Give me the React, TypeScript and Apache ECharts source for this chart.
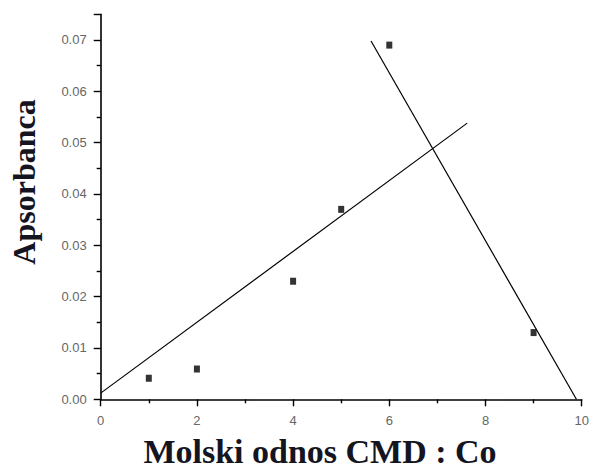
import React, { useEffect, useRef } from "react";
import * as echarts from "echarts";

const xValues = [1, 2, 4, 5, 6, 9];
const yValues = [0.0041, 0.0059, 0.023, 0.037, 0.069, 0.013];
const fit1X = [0, 7.62];
const fit1Y = [0.0012, 0.0538];
const fit2X = [5.62, 9.89];
const fit2Y = [0.0698, 0];
const xTitle = "Molski odnos CMD : Co";
const yTitle = "Apsorbanca";

export default function App() {
  const ref = useRef<HTMLDivElement>(null);
  useEffect(() => {
    document.body.style.margin = "0";
    const chart = echarts.init(ref.current!, null, { renderer: "svg" });
    const axisCommon = {
      axisLine: { lineStyle: { color: "#000", width: 1.6 } },
      axisTick: { show: true, inside: false, length: 7, lineStyle: { color: "#000", width: 1.4 } },
      minorTick: { show: true, splitNumber: 2, length: 4, lineStyle: { color: "#000", width: 1.4 } },
      splitLine: { show: false },
      minorSplitLine: { show: false },
    };
    chart.setOption({
      animation: false,
      backgroundColor: "#fff",
      grid: { left: 100.7, right: 11.3, top: 14.3, bottom: 69.7, containLabel: false },
      xAxis: {
        type: "value",
        min: 0,
        max: 10,
        interval: 2,
        ...axisCommon,
        axisLabel: {
          margin: 15,
          color: "#666",
          fontFamily: "Liberation Sans",
          fontSize: 13,
          formatter: (v: number) => String(v),
        },
      },
      yAxis: {
        type: "value",
        min: 0,
        max: 0.075,
        interval: 0.01,
        ...axisCommon,
        axisLabel: {
          margin: 14,
          color: "#666",
          fontFamily: "Liberation Sans",
          fontSize: 13,
          showMaxLabel: false,
          formatter: (v: number) => (Math.abs(v * 100 - Math.round(v * 100)) < 1e-6 ? v.toFixed(2) : ""),
        },
      },
      series: [
        {
          type: "line",
          data: fit1X.map((x, i) => [x, fit1Y[i]]),
          showSymbol: false,
          symbol: "none",
          lineStyle: { color: "#000", width: 1.2 },
          z: 2,
        },
        {
          type: "line",
          data: fit2X.map((x, i) => [x, fit2Y[i]]),
          showSymbol: false,
          symbol: "none",
          lineStyle: { color: "#000", width: 1.2 },
          z: 2,
        },
        {
          type: "scatter",
          data: xValues.map((x, i) => [x, yValues[i]]),
          symbol: "rect",
          symbolSize: [6, 7],
          itemStyle: { color: "#000" },
          z: 3,
        },
      ],
      graphic: [
        {
          type: "text",
          x: 320,
          y: 451,
          style: {
            text: xTitle,
            font: "bold 34px 'Liberation Serif'",
            fill: "#151522",
            textAlign: "center",
            textVerticalAlign: "middle",
          },
        },
        {
          type: "text",
          x: 24,
          y: 182,
          rotation: Math.PI / 2,
          style: {
            text: yTitle,
            font: "bold 32px 'Liberation Serif'",
            fill: "#151522",
            textAlign: "center",
            textVerticalAlign: "middle",
          },
        },
      ],
    });
    return () => chart.dispose();
  }, []);
  return (
    <div
      ref={ref}
      style={{ position: "fixed", left: 0, top: 0, width: 593, height: 469, background: "#fff" }}
    />
  );
}
